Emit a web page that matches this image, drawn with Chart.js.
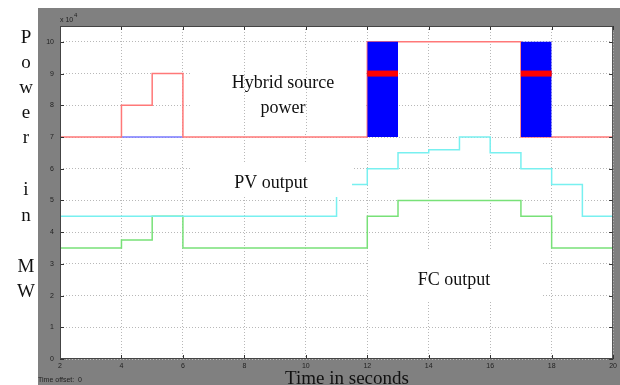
<!DOCTYPE html>
<html>
<head>
<meta charset="utf-8">
<script src="https://cdn.jsdelivr.net/npm/chart.js@4/dist/chart.umd.min.js"></script>
<style>
  html, body { margin: 0; padding: 0; background: #fff; }
  canvas { display: block; }
</style>
</head>
<body>
<canvas id="powerChart" width="620" height="385"></canvas>
<script>
// values are in units of 10^4 (see the x10^4 multiplier on the y axis)
const hybridTime = [2, 4, 5, 6, 12, 17, 20];
const hybridPower = [7, 8, 9, 7, 10, 7, 7];
const batteryTime = [4, 6];
const batteryPower = [7, 7];
const pvTime = [2, 11, 12, 13, 14, 15, 16, 17, 18, 19, 20];
const pvPower = [4.5, 5.5, 6, 6.5, 6.6, 7, 6.5, 6, 5.5, 4.5, 4.5];
const fcTime = [2, 4, 5, 6, 12, 13, 17, 18, 20];
const fcPower = [3.5, 3.75, 4.5, 3.5, 4.5, 5, 4.5, 3.5, 3.5];
// switching bursts (blue blocks) and their mean level (red band)
const burstStart = [12, 17];
const burstEnd = [13, 18];
const burstLow = [7, 7];
const burstHigh = [10, 10];
const burstMean = [9, 9];
const xTickValues = [2, 4, 6, 8, 10, 12, 14, 16, 18, 20];
const yTickValues = [0, 1, 2, 3, 4, 5, 6, 7, 8, 9, 10];

function pts(xs, ys) {
  return xs.map(function(x, i) { return { x: x, y: ys[i] }; });
}

// each value holds from its time until the next one
function stepLine(xs, ys, color, order) {
  return {
    data: pts(xs, ys),
    borderColor: color,
    borderWidth: 1.5,
    pointRadius: 0,
    stepped: 'before',
    fill: false,
    order: order
  };
}

var datasets = [];
burstStart.forEach(function(s, i) {
  datasets.push({
    data: [{ x: s, y: burstMean[i] }, { x: burstEnd[i], y: burstMean[i] }],
    borderColor: '#ff0000',
    borderWidth: 6,
    pointRadius: 0,
    fill: false,
    order: 0
  });
  datasets.push({
    data: [{ x: s, y: burstHigh[i] }, { x: burstEnd[i], y: burstHigh[i] }],
    borderColor: '#0000ff',
    borderWidth: 0,
    backgroundColor: '#0000ff',
    pointRadius: 0,
    fill: { value: burstLow[i] },
    order: 1
  });
});
datasets.push(stepLine(hybridTime, hybridPower, 'rgb(255,120,120)', 2));
datasets.push(stepLine(pvTime, pvPower, 'rgb(120,240,240)', 3));
datasets.push(stepLine(batteryTime, batteryPower, 'rgb(120,120,255)', 4));
datasets.push(stepLine(fcTime, fcPower, 'rgb(120,225,120)', 5));

// grey matlab-like frame and plot background
var framePlugin = {
  id: 'frame',
  beforeDraw: function(chart) {
    var ctx = chart.ctx, a = chart.chartArea;
    ctx.save();
    ctx.fillStyle = '#ffffff';
    ctx.fillRect(0, 0, chart.width, chart.height);
    ctx.fillStyle = '#808080';
    ctx.fillRect(38, 8, chart.width - 38, chart.height - 8);
    ctx.fillStyle = '#ffffff';
    ctx.fillRect(a.left, a.top, a.right - a.left, a.bottom - a.top);
    ctx.restore();
  },
  afterDatasetsDraw: function(chart) {
    var ctx = chart.ctx, a = chart.chartArea;
    var xs = chart.scales.x, ys = chart.scales.y;
    ctx.save();

    // white boxes behind the annotations
    ctx.fillStyle = '#ffffff';
    ctx.fillRect(192, 50, 173, 82);
    ctx.fillRect(192, 163, 160, 34);
    ctx.fillRect(368, 250, 174, 50);

    // vertical grid still shows through the top box
    ctx.strokeStyle = '#b8b8b8';
    ctx.setLineDash([1, 2]);
    ctx.beginPath();
    xTickValues.forEach(function(v) {
      var x = Math.round(xs.getPixelForValue(v)) + 0.5;
      if (x > 192 && x < 365) { ctx.moveTo(x, 50); ctx.lineTo(x, 132); }
    });
    ctx.stroke();
    ctx.setLineDash([]);

    ctx.fillStyle = '#111';
    ctx.textAlign = 'center';
    ctx.textBaseline = 'alphabetic';
    ctx.font = '18px "Liberation Serif"';
    ctx.fillText('Hybrid source', 283, 88);
    ctx.fillText('power', 283, 113);
    ctx.fillText('PV output', 271, 188);
    ctx.fillText('FC output', 454, 285);

    // inner tick marks
    ctx.strokeStyle = '#333';
    ctx.lineWidth = 1;
    ctx.beginPath();
    yTickValues.forEach(function(v) {
      var y = Math.round(ys.getPixelForValue(v)) + 0.5;
      ctx.moveTo(a.left, y); ctx.lineTo(a.left + 4, y);
      ctx.moveTo(a.right, y); ctx.lineTo(a.right - 4, y);
    });
    xTickValues.forEach(function(v) {
      var x = Math.round(xs.getPixelForValue(v)) + 0.5;
      ctx.moveTo(x, a.bottom); ctx.lineTo(x, a.bottom - 4);
      ctx.moveTo(x, a.top); ctx.lineTo(x, a.top + 4);
    });
    ctx.stroke();

    ctx.strokeStyle = '#444';
    ctx.strokeRect(a.left + 0.5, a.top + 0.5, a.right - a.left - 1, a.bottom - a.top - 1);
    ctx.restore();
  },
  afterDraw: function(chart) {
    var ctx = chart.ctx;
    ctx.save();
    ctx.fillStyle = '#111';
    ctx.textAlign = 'center';
    ctx.textBaseline = 'middle';
    ctx.font = '19px "Liberation Serif"';
    var letters = ['P', 'o', 'w', 'e', 'r', 'i', 'n', 'M', 'W'];
    var letterY = [38, 63, 88, 113, 138, 190, 216, 267, 292];
    letters.forEach(function(l, i) { ctx.fillText(l, 26, letterY[i]); });

    ctx.textBaseline = 'alphabetic';
    ctx.fillText('Time in seconds', 347, 384);

    ctx.fillStyle = '#222';
    ctx.textAlign = 'left';
    ctx.font = '7px "Liberation Sans"';
    ctx.fillText('Time offset:  0', 38, 382);
    ctx.fillText('x 10', 60, 22);
    ctx.font = '6px "Liberation Sans"';
    ctx.fillText('4', 74, 17);
    ctx.restore();
  }
};

var tickFont = { family: 'Liberation Sans', size: 7 };

new Chart(document.getElementById('powerChart'), {
  type: 'line',
  data: { datasets: datasets },
  options: {
    responsive: false,
    animation: false,
    devicePixelRatio: 1,
    layout: { padding: { top: 26, right: 6, bottom: 0, left: 0 } },
    plugins: {
      legend: { display: false },
      tooltip: { enabled: false }
    },
    scales: {
      x: {
        type: 'linear',
        min: 2,
        max: 20,
        afterBuildTicks: function(s) { s.ticks = xTickValues.map(function(v) { return { value: v }; }); },
        afterFit: function(s) { s.height = 26; },
        ticks: { font: tickFont, color: '#222', padding: 3, maxRotation: 0, autoSkip: false },
        grid: { color: '#b8b8b8', lineWidth: 1, drawTicks: false },
        border: { display: false, dash: [1, 2] }
      },
      y: {
        type: 'linear',
        min: 0,
        max: 10.5,
        afterBuildTicks: function(s) { s.ticks = yTickValues.map(function(v) { return { value: v }; }); },
        afterFit: function(s) { s.width = 60; },
        ticks: { font: tickFont, color: '#222', padding: 6 },
        grid: { color: '#b8b8b8', lineWidth: 1, drawTicks: false },
        border: { display: false, dash: [1, 2] }
      }
    }
  },
  plugins: [framePlugin]
});
</script>
</body>
</html>
